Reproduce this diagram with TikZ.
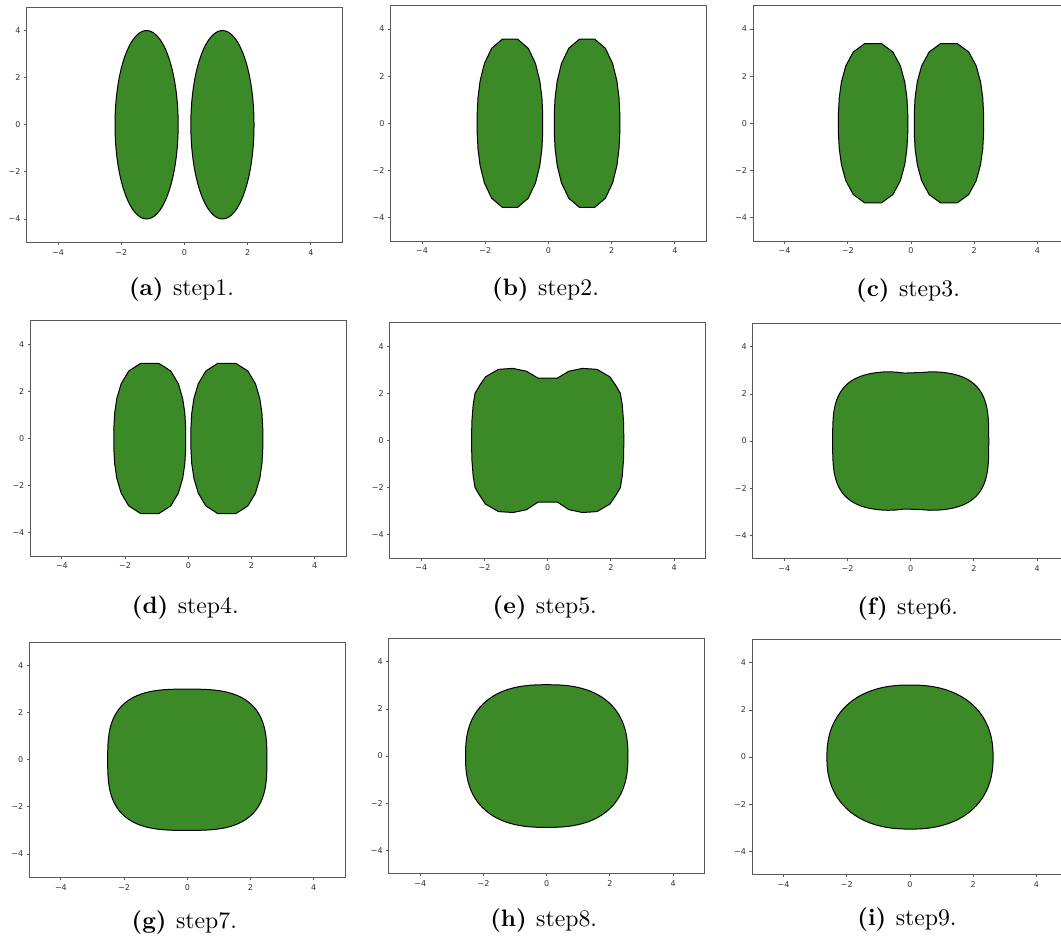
\documentclass[tikz,border=0pt]{standalone}
\usepackage{fontspec}
\newfontfamily\tickfont{DejaVu Sans}
\definecolor{leafgreen}{RGB}{59,137,39}

\begin{document}
\begin{tikzpicture}[
  x=0.4pt, y=0.4pt,
  axbox/.style={draw=black!65, line width=0.4pt, inner sep=0pt, outer sep=0pt, minimum width=126.4pt, minimum height=94.2pt},
  tickmark/.style={draw=black!65, line width=0.35pt},
  ticklab/.style={font=\tickfont\fontsize{3.2}{3.8}\selectfont, text=black!80, inner sep=0pt},
  subcap/.style={font=\fontsize{9.5}{11}\selectfont, inner sep=0pt},
  blob/.style={fill=leafgreen, draw=black, line width=0.4pt, line join=round},
  declare function={
    warp(\s)=\s-11.46*sin(2*\s);
    supx(\t,\a,\p)=\a*cos(\t)*(abs(cos(\t))+0.0001)^(2/\p-1);
    supy(\t,\b,\p)=\b*sin(\t)*(abs(sin(\t))+0.0001)^(2/\p-1);
  }
]
\clip (0,0) rectangle (1061,943);

% axes, ticks and captions
\foreach \n/\l/\t/\d/\s in {a/26.5/7/47.5/1, b/390.5/5.5/48.5/2, c/753/5.5/49.5/3,
    d/30.3/320.7/51/4, e/389.7/322.7/49.4/5, f/752.7/323.3/49.7/6,
    g/29.3/642/45/7, h/388.7/638.3/46.7/8, i/752/639.3/44.7/9}{
  \node[axbox, anchor=north west] (ax-\n) at (\l,943-\t) {};
  \foreach \v/\w in {-4/−4,-2/−2,0/0,2/2,4/4}{
    \draw[tickmark] ([xshift=\v*12.64pt]ax-\n.south) -- ++(0,-2.6);
    \node[ticklab] (xl-\n\v) at ([shift={(\v*31.6,-9.7)}]ax-\n.south) {\w};
    \draw[tickmark] ([yshift=\v*9.42pt]ax-\n.west) -- ++(-2.6,0);
    \node[ticklab, anchor=east] (yl-\n\v) at ([shift={(-5.5,\v*23.55)}]ax-\n.west) {\w};
  }
  \node[subcap] (cap-\n) at ([shift={(-3,-\d)}]ax-\n.south) {\textbf{(\n)}\hspace{0.4em}step\s.};
}

% step1
\begin{scope}[shift={(ax-a.center)}, x=12.64pt, y=9.42pt]
  \foreach \c in {-1.2,1.2}
    \draw[blob] plot[domain=0:360, samples=90] ({\c+supx(\x,1,2)}, {supy(\x,4,2)}) -- cycle;
\end{scope}
% step2
\begin{scope}[shift={(ax-b.center)}, x=12.64pt, y=9.42pt]
  \foreach \c in {-1.22,1.22}
    \draw[blob] plot[domain=7.5:367.5, samples=25]
      ({\c+supx(warp(\x),1.04,2.3)}, {supy(warp(\x),3.63,2.3)}) -- cycle;
\end{scope}
% step3
\begin{scope}[shift={(ax-c.center)}, x=12.64pt, y=9.42pt]
  \foreach \c in {-1.2,1.2}
    \draw[blob] plot[domain=7.5:367.5, samples=25]
      ({\c+supx(warp(\x),1.1,2.4)}, {supy(warp(\x),3.43,2.4)}) -- cycle;
\end{scope}
% step4
\begin{scope}[shift={(ax-d.center)}, x=12.64pt, y=9.42pt]
  \foreach \c in {-1.22,1.22}
    \draw[blob] plot[domain=7.5:367.5, samples=25]
      ({\c+supx(warp(\x),1.14,2.5)}, {supy(warp(\x),3.23,2.5)}) -- cycle;
\end{scope}
% step5
\begin{scope}[shift={(ax-e.center)}, x=12.64pt, y=9.42pt]
  \draw[blob] plot coordinates {(2.41,0) (2.4,0.8) (2.36,1.5) (2.3,2.0) (2.17,2.3) (1.97,2.7)
    (1.56,3.02) (1.1,3.06) (0.67,2.94) (0.31,2.65) (-0.31,2.65) (-0.67,2.94) (-1.1,3.06)
    (-1.56,3.02) (-1.97,2.7) (-2.17,2.3) (-2.3,2.0) (-2.36,1.5) (-2.4,0.8) (-2.41,0)
    (-2.4,-0.8) (-2.36,-1.5) (-2.3,-2.0) (-2.17,-2.3) (-1.97,-2.7) (-1.56,-3.02) (-1.1,-3.06)
    (-0.67,-2.94) (-0.31,-2.62) (0.31,-2.62) (0.67,-2.94) (1.1,-3.06) (1.56,-3.02)
    (1.97,-2.7) (2.17,-2.3) (2.3,-2.0) (2.36,-1.5) (2.4,-0.8)} -- cycle;
\end{scope}
% step6
\begin{scope}[shift={(ax-f.center)}, x=12.64pt, y=9.42pt]
  \draw[blob] plot[domain=0:360, samples=120]
    ({supx(\x,2.47,3.4)}, {supy(\x,2.96,3.4)*(1-0.03*exp(0-(supx(\x,2.47,3.4)/0.45)^2))}) -- cycle;
\end{scope}
% step7
\begin{scope}[shift={(ax-g.center)}, x=12.64pt, y=9.42pt]
  \draw[blob] plot[domain=0:360, samples=100] ({supx(\x,2.52,3)}, {supy(\x,3.0,3)}) -- cycle;
\end{scope}
% step8
\begin{scope}[shift={(ax-h.center)}, x=12.64pt, y=9.42pt]
  \draw[blob] plot[domain=0:360, samples=100] ({supx(\x,2.57,2.5)}, {supy(\x,3.03,2.5)}) -- cycle;
\end{scope}
% step9
\begin{scope}[shift={(ax-i.center)}, x=12.64pt, y=9.42pt]
  \draw[blob] plot[domain=0:360, samples=100] ({supx(\x,2.63,2.3)}, {supy(\x,3.06,2.3)}) -- cycle;
\end{scope}

\end{tikzpicture}
\end{document}
